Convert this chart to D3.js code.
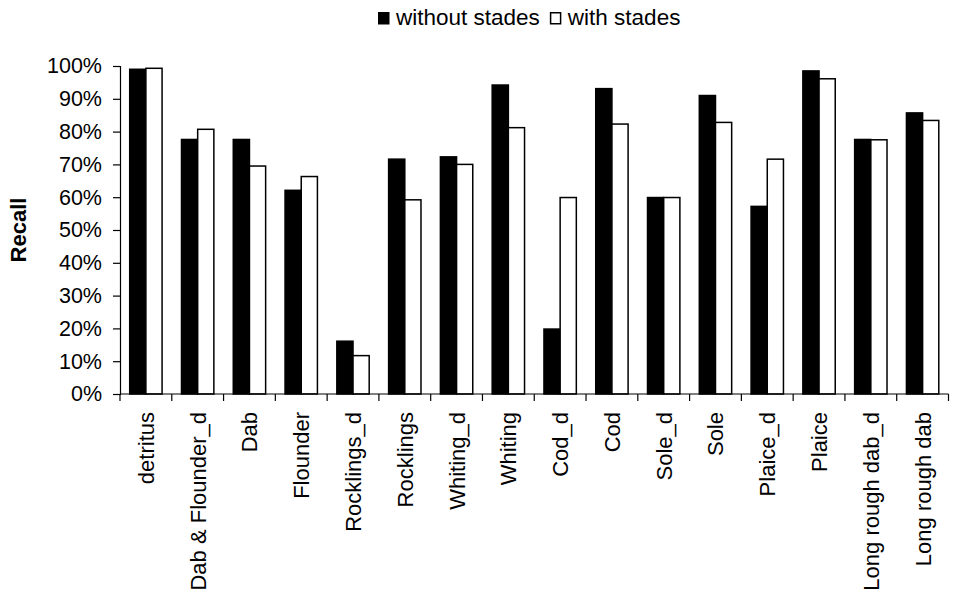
<!DOCTYPE html>
<html>
<head>
<meta charset="utf-8">
<script src="https://cdn.jsdelivr.net/npm/d3@7"></script>
<style>
  html, body { margin: 0; padding: 0; background: #fff; }
  svg { display: block; font-family: "Liberation Sans", Arial, sans-serif; }
</style>
</head>
<body>
<svg id="chart" width="954" height="594"></svg>
<script>
// Recall per class, with and without developmental stages
const categories = ["detritus", "Dab & Flounder_d", "Dab", "Flounder", "Rocklings_d", "Rocklings",
  "Whiting_d", "Whiting", "Cod_d", "Cod", "Sole_d", "Sole", "Plaice_d", "Plaice",
  "Long rough dab_d", "Long rough dab"];
const withoutStades = [99.0, 77.6, 77.6, 62.1, 16.1, 71.6, 72.3, 94.2, 19.8, 93.1, 59.9, 91.0, 57.2, 98.5, 77.6, 85.7];
const withStades    = [99.3, 80.7, 69.5, 66.3, 11.7, 59.2, 70.0, 81.2, 59.9, 82.3, 59.9, 82.8, 71.6, 96.1, 77.5, 83.4];
const seriesNames = ["without stades", "with stades"];
const seriesFill = ["#000000", "#ffffff"];
const yTicks = [0, 10, 20, 30, 40, 50, 60, 70, 80, 90, 100];

const svg = d3.select("#chart");
const margin = { left: 120, right: 5.5, top: 66, bottom: 200 };
const W = 954, H = 594;
const x0 = margin.left, x1 = W - margin.right;
const yTop = margin.top, yBot = H - margin.bottom;

const x = d3.scaleBand().domain(categories).range([x0, x1]).paddingInner(0.375).paddingOuter(0.1875);
const xs = d3.scaleBand().domain(seriesNames).range([0, x.bandwidth()]);
const y = d3.scaleLinear().domain([0, 100]).range([yBot, yTop]);

const rows = categories.map((c, i) => ({ cat: c, vals: [withoutStades[i], withStades[i]] }));

// bars
const g = svg.append("g");
rows.forEach(r => {
  r.vals.forEach((v, k) => {
    g.append("rect")
      .attr("x", x(r.cat) + xs(seriesNames[k]))
      .attr("y", y(v))
      .attr("width", xs.bandwidth())
      .attr("height", y(0) - y(v))
      .attr("fill", seriesFill[k])
      .attr("stroke", "#000")
      .attr("stroke-width", 1.5);
  });
});

// y axis
const yAxis = d3.axisLeft(y).tickValues(yTicks).tickFormat(d => d + "%").tickSizeOuter(0).tickSize(7).tickPadding(11);
const gy = svg.append("g").attr("transform", `translate(${x0},0)`).call(yAxis);
gy.select(".domain").attr("stroke", "#000").attr("stroke-width", 1.2);
gy.selectAll(".tick line").attr("stroke", "#000").attr("stroke-width", 1.2);
gy.selectAll(".tick text").attr("font-size", 21.5).attr("fill", "#000")
  .attr("font-family", "'Liberation Sans', Arial, sans-serif");

// x axis: boundary ticks between categories
const step = x.step();
const bounds = d3.range(categories.length + 1).map(i => x0 + i * step);
const gx = svg.append("g");
gx.append("line").attr("x1", x0).attr("x2", x1).attr("y1", yBot).attr("y2", yBot)
  .attr("stroke", "#000").attr("stroke-width", 1.2);
gx.selectAll("line.b").data(bounds).join("line").attr("class", "b")
  .attr("x1", d => d).attr("x2", d => d).attr("y1", yBot).attr("y2", yBot + 7)
  .attr("stroke", "#000").attr("stroke-width", 1.2);
gx.selectAll("text").data(categories).join("text")
  .attr("transform", d => `translate(${x(d) + x.bandwidth() / 2 + 8},${yBot + 18}) rotate(-90)`)
  .attr("text-anchor", "end")
  .attr("font-size", 22)
  .attr("fill", "#000")
  .text(d => d);

// y axis title
svg.append("text")
  .attr("transform", `translate(${26},${(yTop + yBot) / 2}) rotate(-90)`)
  .attr("text-anchor", "middle")
  .attr("font-size", 22)
  .attr("font-weight", "bold")
  .attr("fill", "#000")
  .text("Recall");

// legend
const legend = svg.append("g").attr("transform", "translate(378,12)");
let lx = 0;
seriesNames.forEach((name, k) => {
  legend.append("rect").attr("x", lx + 0.75).attr("y", 0.75).attr("width", 10).attr("height", 11)
    .attr("fill", seriesFill[k]).attr("stroke", "#000").attr("stroke-width", 1.5);
  const t = legend.append("text").attr("x", lx + 18).attr("y", 12.5).attr("font-size", 22.5)
    .attr("fill", "#000").text(name);
  lx += 18 + t.node().getComputedTextLength() + 10;
});
</script>
</body>
</html>
